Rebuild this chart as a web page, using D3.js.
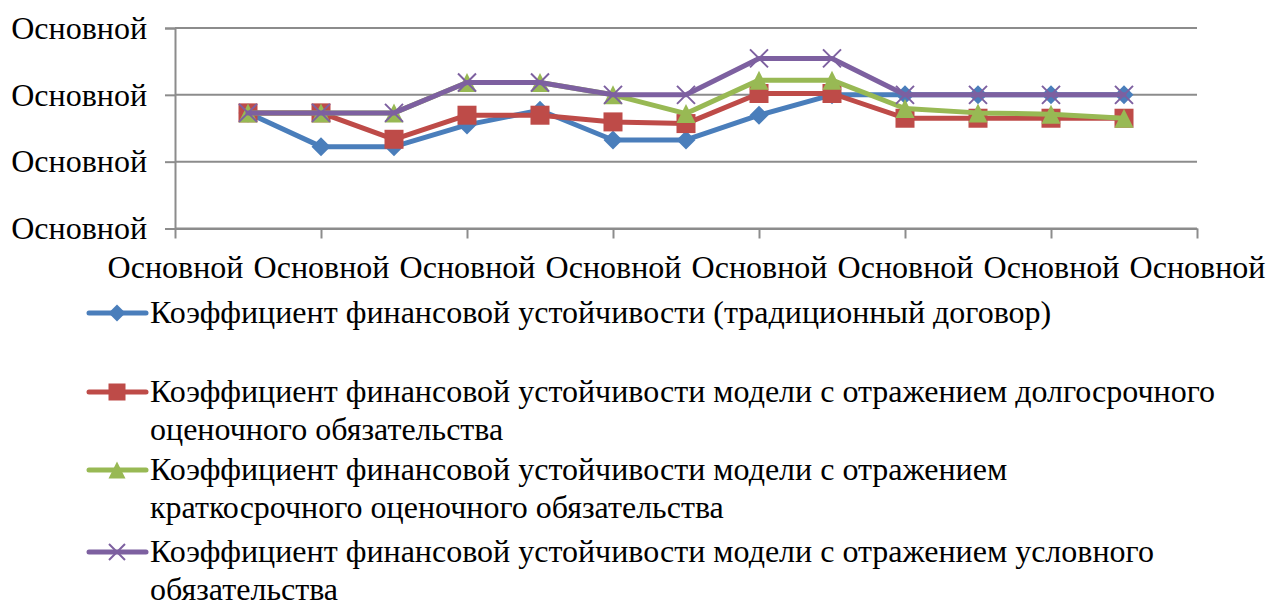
<!DOCTYPE html>
<html>
<head>
<meta charset="utf-8">
<script src="https://cdn.jsdelivr.net/npm/d3@7"></script>
<style>
  html, body { margin: 0; padding: 0; background: #fff; }
</style>
</head>
<body>
<svg id="chart" width="1271" height="600"></svg>
<script>
// Category slots along the horizontal axis (ends are empty padding slots)
const categories = d3.range(15);
// Every second slot carries a tick and a label
const xTickSlots = [0, 2, 4, 6, 8, 10, 12, 14];
const xTickLabels = ["Основной", "Основной", "Основной", "Основной", "Основной", "Основной", "Основной", "Основной"];

// Value axis ticks and their (format-broken) labels
const yTicks = [0.4, 0.6, 0.8, 1.0];
const yTickLabels = ["Основной", "Основной", "Основной", "Основной"];

// Slots that hold data (1..13)
const dataSlots = d3.range(1, 14);

// Financial stability coefficient, four models
const traditional = [0.746, 0.645, 0.645, 0.710, 0.754, 0.665, 0.665, 0.739, 0.800, 0.800, 0.800, 0.800, 0.800];
const longTerm    = [0.746, 0.746, 0.667, 0.739, 0.739, 0.719, 0.714, 0.804, 0.804, 0.730, 0.730, 0.730, 0.730];
const shortTerm   = [0.746, 0.746, 0.746, 0.837, 0.837, 0.800, 0.744, 0.844, 0.844, 0.759, 0.746, 0.742, 0.730];
const contingent  = [0.746, 0.746, 0.746, 0.837, 0.837, 0.800, 0.800, 0.909, 0.909, 0.800, 0.800, 0.800, 0.800];

const seriesNames = [
  ["Коэффициент финансовой устойчивости (традиционный договор)"],
  ["Коэффициент финансовой устойчивости модели с отражением долгосрочного", "оценочного обязательства"],
  ["Коэффициент финансовой устойчивости модели с отражением", "краткосрочного оценочного обязательства"],
  ["Коэффициент финансовой устойчивости модели с отражением условного", "обязательства"]
];
const seriesValues = [traditional, longTerm, shortTerm, contingent];
const seriesColors = ["#4A7EBB", "#BE4B48", "#98B954", "#7D60A0"];
const seriesMarkers = ["diamond", "square", "triangle", "cross"];

const svg = d3.select("#chart");
const plot = { left: 175, right: 1197, top: 28, bottom: 228.5 };

const x = d3.scalePoint().domain(categories).range([plot.left, plot.right]).padding(0);
const y = d3.scaleLinear().domain([0.4, 1.0]).range([plot.bottom, plot.top]);

const gridColor = "#8C8C8C";
const fontSize = 32;
const fontFamily = "'Liberation Serif'";

// Horizontal gridlines
svg.append("g").selectAll("line").data(yTicks).join("line")
  .attr("x1", plot.left).attr("x2", plot.right)
  .attr("y1", d => y(d)).attr("y2", d => y(d))
  .attr("stroke", gridColor).attr("stroke-width", 2);

// Value axis
const yAxis = d3.axisLeft(y).tickValues(yTicks).tickSize(10).tickPadding(18)
  .tickFormat((d, i) => yTickLabels[i]);
const gy = svg.append("g").attr("transform", `translate(${plot.left},0)`).call(yAxis);
gy.select(".domain").attr("stroke", gridColor).attr("stroke-width", 2);
gy.selectAll(".tick line").attr("stroke", gridColor).attr("stroke-width", 2);
gy.selectAll(".tick text").attr("font-size", fontSize).attr("fill", "#000")
  .style("font-family", fontFamily);

// Category axis
const xAxis = d3.axisBottom(x).tickValues(xTickSlots).tickSize(10).tickSizeOuter(0).tickPadding(17)
  .tickFormat((d, i) => xTickLabels[i]);
const gx = svg.append("g").attr("transform", `translate(0,${plot.bottom})`).call(xAxis);
gx.select(".domain").attr("stroke", gridColor).attr("stroke-width", 2);
gx.selectAll(".tick line").attr("stroke", gridColor).attr("stroke-width", 2);
gx.selectAll(".tick text").attr("font-size", fontSize).attr("fill", "#000")
  .style("font-family", fontFamily);

// Marker drawing
function drawMarker(g, type, color, size) {
  const s = size / 2;
  if (type === "diamond") {
    g.append("path").attr("d", `M0,${-s}L${s},0L0,${s}L${-s},0Z`).attr("fill", color);
  } else if (type === "square") {
    g.append("rect").attr("x", -s).attr("y", -s).attr("width", size).attr("height", size).attr("fill", color);
  } else if (type === "triangle") {
    g.append("path").attr("d", `M0,${-s}L${s},${s}L${-s},${s}Z`).attr("fill", color);
  } else if (type === "cross") {
    g.append("path").attr("d", `M${-s},${-s}L${s},${s}M${-s},${s}L${s},${-s}`)
      .attr("stroke", color).attr("stroke-width", 2).attr("fill", "none");
  }
}

const line = d3.line().x(d => x(d.slot)).y(d => y(d.value));

seriesValues.forEach((vals, si) => {
  const pts = vals.map((v, i) => ({ slot: dataSlots[i], value: v }));
  const g = svg.append("g");
  g.append("path").datum(pts).attr("d", line)
    .attr("fill", "none").attr("stroke", seriesColors[si]).attr("stroke-width", 5)
    .attr("stroke-linejoin", "round").attr("stroke-linecap", "round");
  g.selectAll("g.m").data(pts).join("g").attr("class", "m")
    .attr("transform", d => `translate(${x(d.slot)},${y(d.value)})`)
    .each(function () { drawMarker(d3.select(this), seriesMarkers[si], seriesColors[si], si === 3 ? 18 : 19); });
});

// Legend
const legendTops = [313, 392, 470, 552];
const lineGap = 38;
const legend = svg.append("g");
seriesNames.forEach((lines, si) => {
  const ly = legendTops[si];
  const g = legend.append("g");
  g.append("line").attr("x1", 89).attr("x2", 146).attr("y1", ly).attr("y2", ly)
    .attr("stroke", seriesColors[si]).attr("stroke-width", 5).attr("stroke-linecap", "round");
  const m = g.append("g").attr("transform", `translate(117,${ly})`);
  drawMarker(m, seriesMarkers[si], seriesColors[si], si === 3 ? 16 : 17);
  lines.forEach((t, li) => {
    g.append("text").attr("x", 150).attr("y", ly + li * lineGap)
      .attr("dy", "0.3em").attr("font-size", fontSize).attr("fill", "#000")
      .style("font-family", fontFamily).text(t);
  });
});
</script>
</body>
</html>
